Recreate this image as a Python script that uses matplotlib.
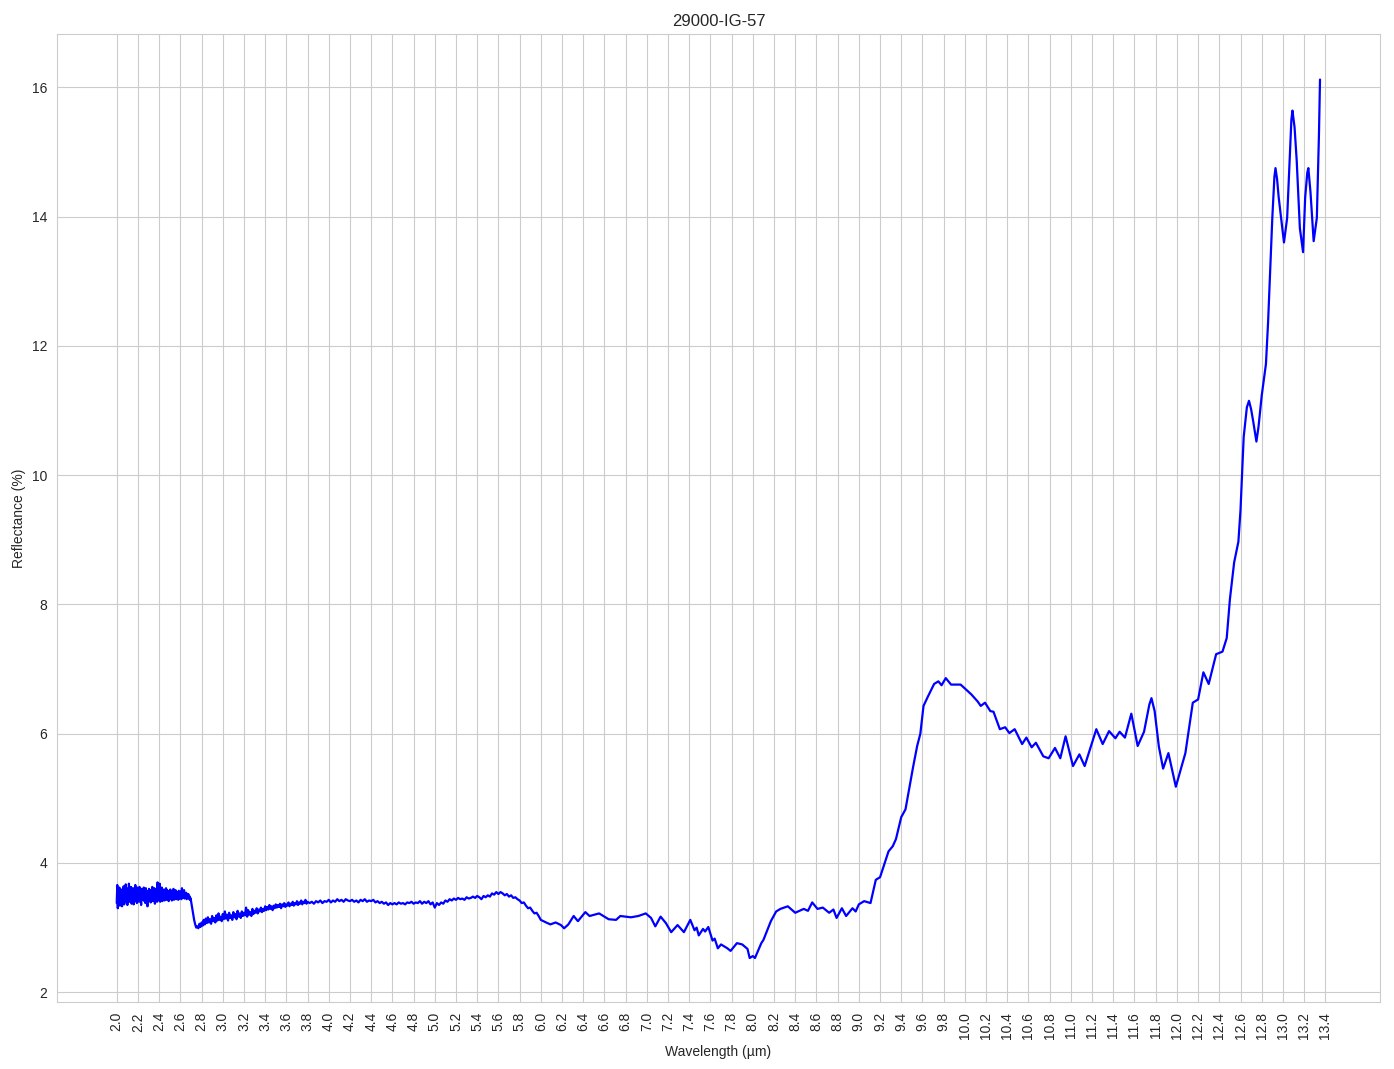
import numpy as np
import matplotlib
matplotlib.use("Agg")
import matplotlib.pyplot as plt
import seaborn as sns

sns.set_style("whitegrid")
plt.rcParams['font.family'] = ['Liberation Sans', 'DejaVu Sans']

title = "29000-IG-57"

# noisy start, 2.000 - 2.700 um
wl_a = [2.000, 2.005, 2.010, 2.015, 2.020, 2.025, 2.030, 2.035, 2.040, 2.045,
        2.050, 2.055, 2.060, 2.065, 2.070, 2.075, 2.080, 2.085, 2.090, 2.095,
        2.100, 2.105, 2.110, 2.115, 2.120, 2.125, 2.130, 2.135, 2.140, 2.145,
        2.150, 2.155, 2.160, 2.165, 2.170, 2.175, 2.180, 2.185, 2.190, 2.195,
        2.200, 2.205, 2.210, 2.215, 2.220, 2.225, 2.230, 2.235, 2.240, 2.245,
        2.250, 2.255, 2.260, 2.265, 2.270, 2.275, 2.280, 2.285, 2.290, 2.295,
        2.300, 2.305, 2.310, 2.315, 2.320, 2.325, 2.330, 2.335, 2.340, 2.345,
        2.350, 2.355, 2.360, 2.365, 2.370, 2.375, 2.380, 2.385, 2.390, 2.395,
        2.400, 2.405, 2.410, 2.415, 2.420, 2.425, 2.430, 2.435, 2.440, 2.445,
        2.450, 2.455, 2.460, 2.465, 2.470, 2.475, 2.480, 2.485, 2.490, 2.495,
        2.500, 2.505, 2.510, 2.515, 2.520, 2.525, 2.530, 2.535, 2.540, 2.545,
        2.550, 2.555, 2.560, 2.565, 2.570, 2.575, 2.580, 2.585, 2.590, 2.595,
        2.600, 2.605, 2.610, 2.615, 2.620, 2.625, 2.630, 2.635, 2.640, 2.645,
        2.650, 2.655, 2.660, 2.665, 2.670, 2.675, 2.680, 2.685, 2.690, 2.695,
        2.700]
refl_a = [3.38, 3.66, 3.30, 3.55, 3.42, 3.62, 3.34, 3.58, 3.40, 3.52,
          3.33, 3.60, 3.45, 3.64, 3.36, 3.56, 3.41, 3.67, 3.39, 3.61,
          3.35, 3.58, 3.44, 3.68, 3.40, 3.55, 3.46, 3.63, 3.37, 3.59,
          3.43, 3.61, 3.36, 3.54, 3.45, 3.66, 3.41, 3.57, 3.38, 3.62,
          3.44, 3.59, 3.40, 3.63, 3.46, 3.56, 3.35, 3.60, 3.43, 3.58,
          3.47, 3.62, 3.41, 3.55, 3.38, 3.61, 3.44, 3.57, 3.33, 3.54,
          3.42, 3.60, 3.45, 3.58, 3.39, 3.56, 3.46, 3.63, 3.41, 3.55,
          3.44, 3.61, 3.37, 3.57, 3.43, 3.59, 3.40, 3.70, 3.42, 3.64,
          3.45, 3.68, 3.40, 3.60, 3.44, 3.62, 3.41, 3.57, 3.46, 3.59,
          3.42, 3.56, 3.45, 3.61, 3.43, 3.58, 3.47, 3.55, 3.41, 3.57,
          3.44, 3.59, 3.46, 3.54, 3.42, 3.57, 3.45, 3.60, 3.43, 3.55,
          3.47, 3.58, 3.44, 3.55, 3.46, 3.53, 3.43, 3.57, 3.45, 3.54,
          3.47, 3.56, 3.44, 3.61, 3.46, 3.55, 3.48, 3.58, 3.45, 3.53,
          3.47, 3.54, 3.44, 3.51, 3.46, 3.52, 3.45, 3.49, 3.43, 3.46,
          3.42]

# drop and slow rise, 2.71 - 3.80 um
wl_b = [2.71, 2.72, 2.73, 2.74, 2.75, 2.76, 2.77, 2.78, 2.79, 2.80,
        2.81, 2.82, 2.83, 2.84, 2.85, 2.86, 2.87, 2.88, 2.89, 2.90,
        2.91, 2.92, 2.93, 2.94, 2.95, 2.96, 2.97, 2.98, 2.99, 3.00,
        3.01, 3.02, 3.03, 3.04, 3.05, 3.06, 3.07, 3.08, 3.09, 3.10,
        3.11, 3.12, 3.13, 3.14, 3.15, 3.16, 3.17, 3.18, 3.19, 3.20,
        3.21, 3.22, 3.23, 3.24, 3.25, 3.26, 3.27, 3.28, 3.29, 3.30,
        3.31, 3.32, 3.33, 3.34, 3.35, 3.36, 3.37, 3.38, 3.39, 3.40,
        3.41, 3.42, 3.43, 3.44, 3.45, 3.46, 3.47, 3.48, 3.49, 3.50,
        3.51, 3.52, 3.53, 3.54, 3.55, 3.56, 3.57, 3.58, 3.59, 3.60,
        3.61, 3.62, 3.63, 3.64, 3.65, 3.66, 3.67, 3.68, 3.69, 3.70,
        3.71, 3.72, 3.73, 3.74, 3.75, 3.76, 3.77, 3.78, 3.79, 3.80]
refl_b = [3.32, 3.22, 3.12, 3.05, 3.00, 3.02, 2.99, 3.06, 3.01, 3.08,
          3.03, 3.12, 3.05, 3.14, 3.07, 3.16, 3.08, 3.13, 3.06, 3.18,
          3.10, 3.15, 3.08, 3.19, 3.11, 3.22, 3.12, 3.17, 3.10, 3.21,
          3.13, 3.25, 3.14, 3.20, 3.11, 3.23, 3.15, 3.19, 3.12, 3.24,
          3.16, 3.21, 3.13, 3.26, 3.17, 3.22, 3.15, 3.25, 3.18, 3.23,
          3.19, 3.31, 3.17, 3.27, 3.20, 3.24, 3.18, 3.29, 3.21, 3.26,
          3.23, 3.30, 3.22, 3.28, 3.25, 3.31, 3.24, 3.29, 3.26, 3.33,
          3.27, 3.32, 3.28, 3.35, 3.29, 3.33, 3.27, 3.34, 3.30, 3.36,
          3.31, 3.35, 3.32, 3.37, 3.30, 3.36, 3.33, 3.38, 3.32, 3.36,
          3.34, 3.39, 3.33, 3.37, 3.35, 3.40, 3.34, 3.38, 3.36, 3.41,
          3.35, 3.39, 3.37, 3.42, 3.36, 3.40, 3.38, 3.43, 3.37, 3.40]

# plateau, 3.82 - 5.98 um
wl_c = [3.82, 3.84, 3.86, 3.88, 3.90, 3.92, 3.94, 3.96, 3.98, 4.00,
        4.02, 4.04, 4.06, 4.08, 4.10, 4.12, 4.14, 4.16, 4.18, 4.20,
        4.22, 4.24, 4.26, 4.28, 4.30, 4.32, 4.34, 4.36, 4.38, 4.40,
        4.42, 4.44, 4.46, 4.48, 4.50, 4.52, 4.54, 4.56, 4.58, 4.60,
        4.62, 4.64, 4.66, 4.68, 4.70, 4.72, 4.74, 4.76, 4.78, 4.80,
        4.82, 4.84, 4.86, 4.88, 4.90, 4.92, 4.94, 4.96, 4.98, 5.00,
        5.02, 5.04, 5.06, 5.08, 5.10, 5.12, 5.14, 5.16, 5.18, 5.20,
        5.22, 5.24, 5.26, 5.28, 5.30, 5.32, 5.34, 5.36, 5.38, 5.40,
        5.42, 5.44, 5.46, 5.48, 5.50, 5.52, 5.54, 5.56, 5.58, 5.60,
        5.62, 5.64, 5.66, 5.68, 5.70, 5.72, 5.74, 5.76, 5.78, 5.80,
        5.82, 5.84, 5.86, 5.88, 5.90, 5.92, 5.94, 5.96, 5.98]
refl_c = [3.38, 3.40, 3.37, 3.41, 3.39, 3.42, 3.38, 3.41, 3.40, 3.43,
          3.39, 3.42, 3.40, 3.44, 3.41, 3.43, 3.40, 3.44, 3.42, 3.41,
          3.43, 3.40, 3.42, 3.39, 3.43, 3.41, 3.44, 3.40, 3.42, 3.41,
          3.43, 3.39, 3.41, 3.38, 3.40, 3.37, 3.39, 3.35, 3.38, 3.36,
          3.38, 3.36, 3.39, 3.37, 3.38, 3.36, 3.39, 3.38, 3.40, 3.37,
          3.39, 3.38, 3.41, 3.37, 3.40, 3.38, 3.41, 3.36, 3.39, 3.31,
          3.38, 3.35, 3.39, 3.37, 3.42, 3.40, 3.44, 3.42, 3.45, 3.43,
          3.46, 3.44, 3.45, 3.43, 3.47, 3.45, 3.46, 3.48, 3.46, 3.49,
          3.47, 3.44, 3.49, 3.47, 3.50, 3.48, 3.53, 3.51, 3.55, 3.52,
          3.55, 3.53, 3.50, 3.52, 3.48, 3.50, 3.46, 3.47, 3.44, 3.42,
          3.38, 3.39, 3.34, 3.30, 3.31, 3.26, 3.22, 3.23, 3.18]

# smoother long-wave part, 6.00 - 13.35 um
wl_d = [6.00, 6.05, 6.09, 6.14, 6.19, 6.22, 6.26, 6.31, 6.35, 6.42,
        6.46, 6.55, 6.64, 6.71, 6.75, 6.85, 6.92, 6.99, 7.04, 7.08,
        7.13, 7.18, 7.23, 7.29, 7.35, 7.41, 7.45, 7.47, 7.49, 7.53,
        7.55, 7.58, 7.62, 7.64, 7.67, 7.70, 7.76, 7.79, 7.85, 7.90,
        7.95, 7.97, 8.00, 8.02, 8.08, 8.10, 8.17, 8.22, 8.26, 8.33,
        8.40, 8.48, 8.52, 8.56, 8.61, 8.66, 8.72, 8.76, 8.79, 8.84,
        8.88, 8.94, 8.97, 9.00, 9.05, 9.11, 9.16, 9.20, 9.28, 9.32,
        9.35, 9.40, 9.44, 9.51, 9.55, 9.58, 9.61, 9.65, 9.71, 9.75,
        9.78, 9.82, 9.87, 9.96, 10.06, 10.12, 10.15, 10.19, 10.24, 10.27,
        10.33, 10.38, 10.42, 10.47, 10.54, 10.58, 10.63, 10.67, 10.74, 10.79,
        10.85, 10.90, 10.95, 11.02, 11.08, 11.13, 11.24, 11.30, 11.36, 11.42,
        11.46, 11.51, 11.57, 11.63, 11.69, 11.74, 11.76, 11.79, 11.83, 11.87,
        11.92, 11.99, 12.06, 12.08, 12.15, 12.20, 12.25, 12.30, 12.37, 12.43,
        12.47, 12.50, 12.54, 12.58, 12.60, 12.63, 12.66, 12.68, 12.70, 12.72,
        12.75, 12.77, 12.80, 12.84, 12.86, 12.90, 12.92, 12.93, 12.945, 12.96,
        13.01, 13.04, 13.07, 13.08, 13.09, 13.11, 13.13, 13.16, 13.19, 13.21,
        13.23, 13.24, 13.26, 13.29, 13.32, 13.34, 13.35]
refl_d = [3.12, 3.08, 3.05, 3.08, 3.04, 2.99, 3.05, 3.18, 3.10, 3.24,
          3.18, 3.22, 3.13, 3.12, 3.18, 3.16, 3.18, 3.22, 3.15, 3.02,
          3.17, 3.07, 2.93, 3.04, 2.93, 3.12, 2.96, 3.00, 2.88, 2.98,
          2.94, 3.01, 2.80, 2.83, 2.68, 2.74, 2.68, 2.64, 2.76, 2.74,
          2.67, 2.53, 2.56, 2.53, 2.76, 2.81, 3.10, 3.25, 3.29, 3.33,
          3.23, 3.29, 3.26, 3.39, 3.29, 3.31, 3.23, 3.28, 3.15, 3.30,
          3.18, 3.30, 3.25, 3.36, 3.41, 3.38, 3.74, 3.78, 4.18, 4.26,
          4.37, 4.71, 4.83, 5.47, 5.81, 6.00, 6.43, 6.57, 6.77, 6.81,
          6.75, 6.86, 6.76, 6.76, 6.61, 6.50, 6.43, 6.48, 6.35, 6.34,
          6.07, 6.10, 6.01, 6.07, 5.84, 5.94, 5.79, 5.86, 5.65, 5.62,
          5.78, 5.62, 5.96, 5.50, 5.68, 5.50, 6.07, 5.84, 6.04, 5.93,
          6.03, 5.94, 6.31, 5.81, 6.03, 6.45, 6.55, 6.35, 5.80, 5.46,
          5.70, 5.18, 5.58, 5.70, 6.48, 6.53, 6.95, 6.77, 7.23, 7.27,
          7.48, 8.08, 8.65, 8.97, 9.46, 10.59, 11.05, 11.15, 11.02, 10.83,
          10.52, 10.75, 11.23, 11.72, 12.36, 13.98, 14.62, 14.75, 14.58, 14.30,
          13.60, 13.98, 15.11, 15.50, 15.64, 15.38, 14.87, 13.82, 13.45, 14.30,
          14.68, 14.75, 14.38, 13.62, 13.98, 15.27, 16.12]

wavelength = wl_a + wl_b + wl_c + wl_d
reflectance = refl_a + refl_b + refl_c + refl_d

xtick_vals = np.round(np.arange(2.0, 13.41, 0.2), 1)

fig = plt.figure(figsize=(13.94, 10.69), dpi=100)
ax = fig.add_axes([0.0407, 0.0624, 0.9495, 0.9055])
ax.plot(wavelength, reflectance, color='blue', linewidth=1.6)

ax.set_xticks(xtick_vals)
ax.set_xticklabels([f"{t:.1f}" for t in xtick_vals], rotation=90)
ax.set_ylim(1.845, 16.82)
ax.set_xlim(1.434, 13.919)

ax.set_title(title)
ax.set_xlabel("Wavelength (µm)")
ax.set_ylabel("Reflectance (%)")

fig.savefig("out.png", dpi=100)
